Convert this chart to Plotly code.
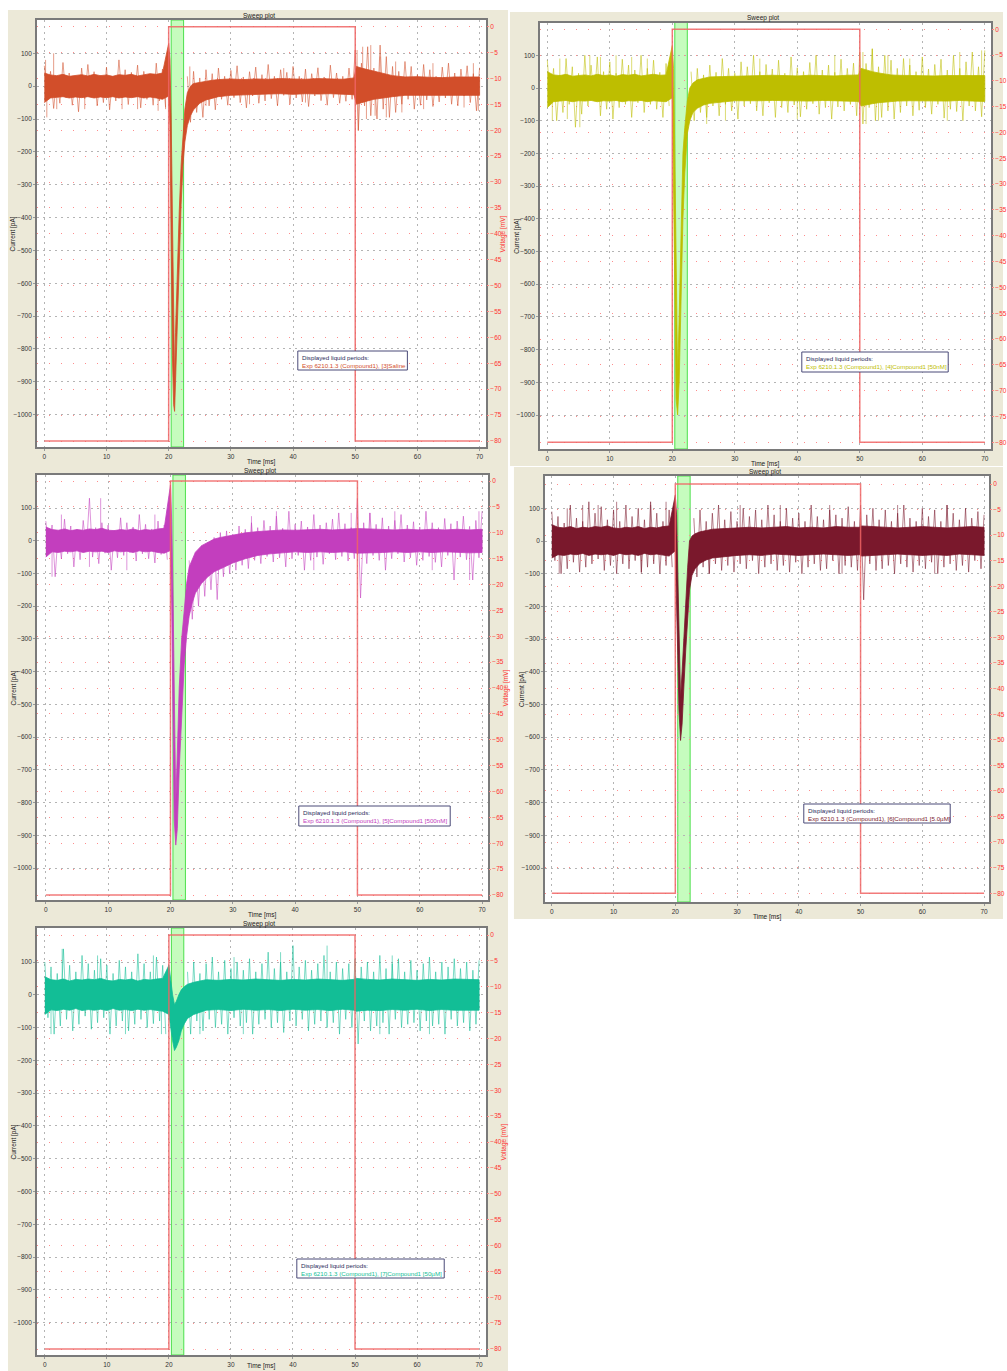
import plotly.graph_objects as go

W, H = 1007, 1371

# ---------------- data ----------------
time_ticks = [0, 10, 20, 30, 40, 50, 60, 70]
current_ticks = [100, 0, -100, -200, -300, -400, -500, -600, -700, -800, -900, -1000]
voltage_ticks = [0, -5, -10, -15, -20, -25, -30, -35, -40, -45, -50, -55, -60, -65, -70, -75, -80]

volt_t = [0, 20, 20, 50, 50, 70]
volt_v = [-80, -80, 0, 0, -80, -80]
liquid_period = [20.4, 22.4]

labels = [
    "Exp 6210.1.3 (Compound1), [3]Saline",
    "Exp 6210.1.3 (Compound1), [4]Compound1 [50nM]",
    "Exp 6210.1.3 (Compound1), [5]Compound1 [500nM]",
    "Exp 6210.1.3 (Compound1), [6]Compound1 [5.0µM]",
    "Exp 6210.1.3 (Compound1), [7]Compound1 [50µM]",
]
colors = ["rgb(210,78,42)", "rgb(190,190,0)", "rgb(195,62,190)", "rgb(122,24,44)", "rgb(18,190,150)"]
light_colors = ["rgba(210,78,42,0.55)", "rgba(190,190,0,0.55)", "rgba(195,62,190,0.55)",
                "rgba(122,24,44,0.55)", "rgba(18,190,150,0.55)"]

# dense noise peaks, sampled every 0.5 ms, in three segments starting at 0, 23 and 50 ms
seg_starts = [0, 23, 50]

# ---- Panel 1 (saline) ----
p1_t = [0, 1, 2, 3, 4, 5, 6, 7, 8, 9, 10, 11, 12, 13, 14, 15, 16, 17, 18, 19,
        20.0, 20.2, 20.4, 20.6, 20.8, 20.95, 21.1, 21.4, 21.7, 22.0, 22.3, 22.6, 23.0, 23.5, 24, 25, 26,
        27, 28, 30, 32, 34, 36, 38, 40, 42, 44, 46, 48, 49.8, 50.2, 51, 52, 53, 54, 55, 56, 58, 60, 62, 64, 66, 68, 70]
p1_hi = [40, 34, 32, 36, 30, 33, 35, 31, 36, 32, 34, 30, 35, 33, 36, 31, 35, 38, 36, 40,
         130, 80, -100, -450, -800, -900, -750, -550, -380, -240, -140, -70, -20, 0, 8, 12, 16,
         18, 20, 22, 20, 22, 21, 23, 22, 21, 23, 22, 21, 25, 60, 55, 50, 45, 40, 36, 32, 28, 29, 27, 26, 28, 27, 28]
p1_lo = [-50, -36, -34, -32, -36, -33, -35, -32, -36, -33, -35, -32, -36, -33, -35, -32, -36, -33, -36, -40,
         -30, -120, -400, -820, -970, -990, -900, -700, -520, -360, -240, -170, -120, -90, -72, -52, -42,
         -36, -32, -28, -26, -25, -24, -23, -25, -23, -24, -23, -24, -26, -55, -50, -45, -40, -36, -34, -32, -28, -28, -26, -27, -26, -28, -28]
p1_noise_pre = [62, -30, 45, -68, 25, -52, 72, -35, 40, -58, 30, -78, 55, -38, 66, -25, 44, -60, 33, -50,
                58, -72, 30, -45, 80, -36, 50, -56, 42, -30, 64, -66, 45, -40, 35, -58, 70, -45, 52, -64]
p1_noise_mid = [30, -110, 45, -80, 25, -95, 50, -60, 38, -72, 55, -40, 30, -58, 48, -35, 62, -50, 28, -66,
                44, -30, 58, -52, 35, -45, 66, -38, 30, -60, 50, -28, 42, -55, 60, -36, 30, -48, 52, -62,
                38, -30, 56, -44, 28, -58, 64, -35, 40, -52, 30, -46, 55, -40]
p1_noise_post = [110, -135, 70, -60, 120, -90, 55, -100, 125, -70, 90, -95, 60, -80, 45, -55, 75, -40, 60, -70,
                 35, -58, 66, -42, 50, -62, 30, -48, 58, -36, 70, -55, 40, -60, 52, -30, 62, -50, 38, -75, 56]
p1_spk_t = [0.2, 0.4, 1.5, 2, 6.5, 12.5, 15, 18.3, 19.5, 23.4, 26, 33, 38.5, 42,
            50.3, 50.5, 51.2, 51.8, 52.5, 53.2, 54, 55, 56.5, 57.5, 61, 62.5, 67.5, 69, 69.8]
p1_spk_v = [80, -95, 100, -70, -70, -70, -70, -75, -70, 60, -60, -55, 55, -50,
            110, -135, 120, -100, 125, -90, 90, -95, 75, -80, -70, 70, -65, 70, -75]

# ---- Panel 2 (50 nM) ----
p2_t = [0, 1, 2, 3, 4, 5, 6, 7, 8, 9, 10, 11, 12, 13, 14, 15, 16, 17, 18, 19,
        20.0, 20.2, 20.4, 20.6, 20.85, 21.1, 21.4, 21.7, 22.0, 22.4, 22.8, 23.3, 24, 25, 26, 28,
        30, 32, 34, 36, 38, 40, 42, 44, 46, 48, 49.8, 50.2, 51, 52, 53, 54, 55, 56, 58, 60, 62, 64, 66, 68, 70]
p2_hi = [50, 40, 38, 42, 36, 39, 40, 37, 42, 38, 40, 36, 41, 39, 42, 37, 40, 42, 39, 40,
         130, 60, -200, -600, -880, -700, -400, -200, -120, -40, 0, 15, 25, 30, 34, 35,
         36, 38, 37, 39, 38, 37, 39, 38, 37, 39, 40, 60, 55, 50, 46, 42, 40, 39, 38, 39, 37, 38, 39, 38, 38]
p2_lo = [-60, -42, -40, -38, -42, -39, -40, -38, -42, -39, -40, -38, -42, -39, -40, -38, -42, -39, -40, -42,
         -30, -200, -600, -950, -1000, -900, -650, -400, -260, -140, -100, -75, -62, -52, -47, -43,
         -39, -40, -39, -38, -40, -39, -40, -38, -39, -40, -41, -55, -52, -48, -45, -43, -41, -40, -39, -40, -39, -40, -38, -40, -41]
p2_noise_pre = [85, -45, 60, -100, 40, -75, 90, -50, 65, -120, 45, -80, 100, -55, 70, -40, 95, -85, 50, -65,
                80, -95, 45, -60, 88, -50, 70, -90, 55, -45, 100, -75, 60, -50, 85, -65, 48, -90, 75, -55]
p2_noise_mid = [50, -100, 60, -75, 40, -90, 70, -55, 48, -85, 90, -50, 60, -70, 45, -95, 80, -55, 65, -48,
                100, -70, 50, -85, 72, -45, 58, -90, 85, -60, 45, -75, 95, -52, 62, -88, 50, -65, 78, -48,
                100, -80, 55, -60, 70, -95, 48, -58, 88, -70, 60, -50, 76, -85]
p2_noise_post = [110, -110, 75, -60, 120, -100, 65, -90, 100, -70, 85, -95, 60, -75, 90, -55, 70, -85, 50, -68,
                 95, -60, 58, -80, 72, -50, 88, -92, 55, -65, 100, -72, 60, -100, 80, -55, 110, -70, 65, -88, 115]
p2_spk_t = [0.8, 2, 3.2, 5.2, 6.8, 8.5, 11, 13.5, 16, 25.5, 28.5, 34, 40, 46,
            50.5, 51, 52, 53, 54.5, 58, 64, 66, 69.5]
p2_spk_v = [-100, 90, -95, -120, 100, 95, 100, 95, 90, -110, -100, 90, -95, 100,
            110, -110, 120, -100, 100, 90, -100, 110, 115]

# ---- Panel 3 (500 nM) ----
p3_t = [0, 1, 2, 3, 4, 5, 6, 7, 8, 9, 10, 11, 12, 13, 14, 15, 16, 17, 18, 19,
        20.0, 20.2, 20.4, 20.6, 20.85, 21.1, 21.4, 21.8, 22.2, 22.6, 23.0, 23.5, 24, 25, 26, 27, 28,
        30, 32, 34, 36, 38, 40, 42, 44, 46, 48, 50, 52, 54, 56, 58, 60, 62, 64, 66, 68, 70]
p3_hi = [42, 34, 32, 36, 31, 34, 32, 36, 34, 38, 32, 31, 34, 32, 36, 31, 34, 32, 36, 38,
         170, 60, -150, -500, -800, -650, -450, -300, -200, -130, -80, -55, -35, -15, -5, 5, 10,
         18, 24, 28, 31, 33, 32, 33, 35, 33, 35, 37, 36, 35, 33, 35, 33, 35, 33, 35, 33, 35]
p3_lo = [-50, -34, -36, -32, -34, -31, -36, -32, -34, -32, -36, -31, -34, -32, -36, -31, -34, -32, -36, -38,
         -30, -200, -500, -850, -930, -880, -700, -520, -380, -290, -230, -190, -160, -130, -110, -95, -85,
         -68, -55, -45, -40, -36, -34, -36, -34, -36, -34, -38, -37, -36, -34, -36, -34, -36, -34, -36, -37, -36]
p3_noise_pre = [60, -35, 48, -110, 30, -55, 66, -40, 45, -80, 35, -58, 62, -30, 130, -50, 40, -70, 55, -38,
                48, -90, 32, -52, 70, -45, 55, -36, 42, -62, 80, -40, 50, -55, 36, -68, 60, -42, 48, -58]
p3_noise_mid = [-60, -240, -45, -200, -15, -170, -5, -150, 10, -180, 25, -110, 30, -100, 20, -90, 45, -75, 35, -85,
                55, -60, 40, -70, 62, -48, 45, -65, 75, -52, 38, -80, 90, -55, 50, -45, 60, -90, 42, -60,
                80, -50, 48, -72, 55, -40, 66, -58, 85, -48, 52, -62, 40, -55]
p3_noise_post = [130, -175, 55, -70, 85, -45, 50, -60, 70, -90, 45, -55, 62, -40, 80, -65, 48, -52, 58, -75,
                 42, -60, 90, -48, 55, -66, 40, -80, 68, -45, 52, -120, 60, -50, 75, -58, 44, -120, 62, -52, 90]
p3_spk_t = [1, 2.5, 7, 8.8, 13, 17.5, 33, 37, 43, 49, 52, 56, 62, 68, 69.5]
p3_spk_v = [-110, 80, -80, 130, -90, 80, 75, 90, -90, 85, 85, 90, -90, -120, 90]

# ---- Panel 4 (5.0 uM) ----
p4_t = [0, 1, 2, 3, 4, 5, 6, 7, 8, 9, 10, 11, 12, 13, 14, 15, 16, 17, 18, 19,
        20.0, 20.2, 20.4, 20.6, 20.85, 21.1, 21.4, 21.7, 22.0, 22.3, 22.7, 23.2, 24, 25, 26, 28,
        30, 32, 34, 36, 38, 40, 42, 44, 46, 48, 49.8, 50.2, 52, 54, 56, 58, 60, 62, 64, 66, 68, 70]
p4_hi = [50, 42, 40, 44, 38, 42, 40, 44, 42, 46, 40, 38, 42, 40, 44, 38, 42, 40, 44, 46,
         140, 80, -100, -300, -480, -400, -280, -180, -80, 0, 15, 22, 28, 32, 36, 38,
         40, 42, 40, 42, 44, 40, 42, 40, 44, 42, 42, 46, 44, 42, 40, 42, 44, 42, 40, 42, 44, 42]
p4_lo = [-52, -42, -44, -40, -42, -38, -44, -40, -42, -40, -44, -38, -42, -40, -44, -38, -42, -40, -44, -46,
         -30, -150, -350, -520, -610, -560, -440, -330, -230, -150, -105, -85, -68, -58, -52, -47,
         -44, -42, -44, -40, -42, -44, -42, -40, -42, -44, -42, -46, -44, -42, -40, -42, -44, -42, -44, -40, -42, -44]
p4_noise_pre = [90, -60, 75, -100, 55, -85, 110, -65, 70, -95, 60, -80, 120, -70, 85, -55, 105, -90, 65, -75,
                95, -100, 60, -70, 110, -85, 75, -60, 100, -95, 65, -80, 120, -70, 85, -100, 60, -75, 95, -80]
p4_noise_mid = [70, -110, 95, -80, 60, -100, 85, -70, 110, -90, 65, -75, 90, -95, 60, -70, 100, -85, 75, -60,
                95, -100, 65, -80, 110, -70, 80, -90, 60, -75, 100, -95, 70, -65, 85, -100, 60, -80, 110, -70,
                75, -90, 65, -85, 95, -60, 80, -100, 70, -75, 105, -80, 60, -90]
p4_noise_post = [110, -180, 80, -70, 100, -90, 65, -85, 95, -75, 60, -100, 85, -70, 110, -80, 70, -95, 60, -75,
                 100, -85, 75, -65, 95, -100, 60, -80, 110, -70, 85, -90, 65, -75, 100, -95, 70, -60, 90, -85, 80]
p4_spk_t = [1.2, 2.5, 5, 7.5, 10.5, 14.5, 16, 18.5, 25.5, 30.5, 37, 45, 47, 56, 62, 64]
p4_spk_v = [-100, 100, 110, 110, 120, -100, 110, 120, -100, 110, 110, 110, -100, 110, -100, 110]

# ---- Panel 5 (50 uM) ----
p5_t = [0, 1, 2, 3, 4, 5, 6, 7, 8, 9, 10, 11, 12, 13, 14, 15, 16, 17, 18, 19,
        20.0, 20.3, 20.6, 20.9, 21.2, 21.6, 22.0, 22.5, 23, 24, 25,
        26, 28, 30, 32, 34, 36, 38, 40, 42, 44, 46, 48, 49.8, 50.2, 52, 54, 56, 58, 60, 62, 64, 66, 68, 70]
p5_hi = [55, 46, 44, 48, 42, 47, 45, 48, 46, 50, 44, 42, 47, 45, 48, 42, 47, 45, 48, 50,
         90, 40, 0, -30, -20, 0, 15, 25, 32, 38, 42,
         46, 44, 47, 45, 48, 46, 44, 47, 45, 48, 46, 44, 47, 50, 47, 45, 48, 46, 44, 47, 45, 48, 46, 46]
p5_lo = [-60, -46, -48, -44, -47, -42, -48, -45, -47, -44, -48, -42, -47, -45, -48, -44, -47, -45, -48, -50,
         -60, -100, -140, -170, -160, -140, -110, -88, -72, -60, -54,
         -47, -45, -48, -44, -47, -45, -48, -44, -47, -45, -48, -44, -47, -50, -47, -48, -45, -47, -44, -48, -45, -47, -48, -47]
p5_noise_pre = [100, -70, 85, -120, 65, -95, 140, -75, 90, -110, 70, -90, 120, -65, 95, -105, 75, -85, 110, -70,
                90, -120, 65, -95, 105, -80, 85, -110, 70, -90, 125, -75, 95, -100, 70, -88, 115, -80, 90, -120]
p5_noise_mid = [70, -120, 100, -80, 65, -110, 95, -75, 115, -100, 70, -90, 105, -120, 80, -70, 100, -95, 75, -85,
                110, -120, 70, -90, 95, -75, 130, -100, 80, -85, 100, -115, 70, -80, 150, -95, 85, -75, 105, -110,
                75, -90, 95, -80, 120, -100, 70, -85, 100, -120, 80, -75, 95, -100]
p5_noise_post = [110, -150, 85, -80, 100, -110, 70, -95, 120, -85, 80, -120, 95, -75, 110, -100, 70, -90, 105, -85,
                 75, -110, 95, -80, 115, -95, 70, -90, 100, -120, 85, -75, 110, -95, 80, -85, 100, -110, 75, -90, 105]
p5_spk_t = [1, 2.8, 8.5, 13, 17.5, 18.8, 25, 30.5, 32, 38, 45.5, 54, 56, 62]
p5_spk_v = [-120, 140, 120, -120, 120, -120, -120, 115, -120, 130, 150, -120, 120, -120]

panels_data = [
    (p1_t, p1_hi, p1_lo, [p1_noise_pre, p1_noise_mid, p1_noise_post], p1_spk_t, p1_spk_v),
    (p2_t, p2_hi, p2_lo, [p2_noise_pre, p2_noise_mid, p2_noise_post], p2_spk_t, p2_spk_v),
    (p3_t, p3_hi, p3_lo, [p3_noise_pre, p3_noise_mid, p3_noise_post], p3_spk_t, p3_spk_v),
    (p4_t, p4_hi, p4_lo, [p4_noise_pre, p4_noise_mid, p4_noise_post], p4_spk_t, p4_spk_v),
    (p5_t, p5_hi, p5_lo, [p5_noise_pre, p5_noise_mid, p5_noise_post], p5_spk_t, p5_spk_v),
]

# ---------------- geometry (pixels) ----------------
geom = [
    dict(L=37, R=488, T=20, B=447, x0=44.5, x70=481.5, y100=53.3, y1000=414.7, v0=26.7, v80=441,
         bg=(8, 10, 510, 465), box=(299, 351, 409, 370), vlabel=True),
    dict(L=542, R=995, T=22.5, B=449, x0=549.5, x70=988.7, y100=55.3, y1000=415, v0=29.3, v80=442.3,
         bg=(512, 12, 1007, 466), box=(805, 352, 952, 372), vlabel=False),
    dict(L=37, R=490, T=475, B=900, x0=46, x70=484, y100=508, y1000=868, v0=481, v80=895,
         bg=(8, 465, 510, 916), box=(300, 806, 452, 826), vlabel=True),
    dict(L=547, R=993, T=476, B=902, x0=554, x70=988, y100=508.3, y1000=868, v0=484, v80=893.3,
         bg=(516, 467, 1007, 919), box=(807, 804, 954, 823), vlabel=False),
    dict(L=37, R=488, T=928, B=1355, x0=45, x70=481, y100=962, y1000=1322.7, v0=935, v80=1349,
         bg=(8, 916, 510, 1371), box=(298, 1259, 446, 1278), vlabel=True),
]

FONT = "Liberation Sans, Arial, sans-serif"
fig = go.Figure()
shapes = []
annotations = []
layout = dict(width=W, height=H, margin=dict(l=0, r=0, t=0, b=0), paper_bgcolor="white",
              plot_bgcolor="rgba(0,0,0,0)", showlegend=False, font=dict(family=FONT, size=7, color="#333"))


def px(x):
    return x / W


def py(y):
    return 1 - y / H


for k, g in enumerate(geom):
    xkey = "xaxis" if k == 0 else f"xaxis{k + 1}"
    ykey = "yaxis" if k == 0 else f"yaxis{2 * k + 1}"
    y2key = f"yaxis{2 * k + 2}"
    xref = "x" if k == 0 else f"x{k + 1}"
    yref = "y" if k == 0 else f"y{2 * k + 1}"
    y2ref = f"y{2 * k + 2}"

    sx = (g["x70"] - g["x0"]) / 70.0
    xr = [0 - (g["x0"] - g["L"]) / sx, 70 + (g["R"] - g["x70"]) / sx]
    sy = (g["y1000"] - g["y100"]) / 1100.0
    yr = [-1000 - (g["B"] - g["y1000"]) / sy, 100 + (g["y100"] - g["T"]) / sy]
    sv = (g["v80"] - g["v0"]) / 80.0
    vr = [-80 - (g["B"] - g["v80"]) / sv, 0 + (g["v0"] - g["T"]) / sv]

    xdom = [px(g["L"]), px(g["R"])]
    ydom = [py(g["B"]), py(g["T"])]

    common = dict(showgrid=True, gridcolor="#b4b4b4", griddash="2px,4px", gridwidth=1, zeroline=False,
                  showline=True, mirror=True, linecolor="#7a7a7a", linewidth=1.5,
                  ticks="outside", ticklen=2, tickcolor="#999", tickfont=dict(size=6.5, color="#333"))
    layout[xkey] = dict(domain=xdom, range=xr, anchor=yref, tickvals=time_ticks, **common)
    layout[ykey] = dict(domain=ydom, range=yr, anchor=xref, tickvals=current_ticks, **common)
    layout[y2key] = dict(overlaying=yref, anchor=xref, side="right", range=vr, tickvals=voltage_ticks,
                         showgrid=True, gridcolor="#ff8c8c", griddash="1px,11px", gridwidth=1,
                         zeroline=False, showline=False, ticks="outside", ticklen=2, tickcolor="#f88",
                         tickfont=dict(size=6.5, color="#ff3030"))

    bx0, by0, bx1, by1 = g["bg"]
    shapes.append(dict(type="rect", xref="paper", yref="paper", x0=px(bx0), x1=px(bx1), y0=py(by1), y1=py(by0),
                       fillcolor="#ece9d8", line=dict(width=0), layer="below"))
    shapes.append(dict(type="rect", xref="paper", yref="paper", x0=px(g["L"]), x1=px(g["R"]), y0=py(g["B"]),
                       y1=py(g["T"]), fillcolor="white", line=dict(width=0), layer="below"))
    shapes.append(dict(type="rect", xref=xref, yref=f"{yref} domain", x0=liquid_period[0], x1=liquid_period[1],
                       y0=0, y1=1, fillcolor="#c6fcbe", line=dict(color="#4ce04c", width=1), layer="below"))
    lx0, ly0, lx1, ly1 = g["box"]
    shapes.append(dict(type="rect", xref="paper", yref="paper", x0=px(lx0), x1=px(lx1), y0=py(ly1), y1=py(ly0),
                       fillcolor="white", line=dict(color="#4a4a78", width=1), layer="above"))
    annotations.append(dict(xref="paper", yref="paper", x=px(lx0 + 2), y=py(ly0 + 1), xanchor="left",
                            yanchor="top", align="left", showarrow=False,
                            text=f"<span style='color:#2a2a5a'>Displayed liquid periods:</span><br>"
                                 f"<span style='color:{colors[k]}'>{labels[k]}</span>",
                            font=dict(size=6.2, family=FONT)))
    cx = (g["L"] + g["R"]) / 2
    annotations.append(dict(xref="paper", yref="paper", x=px(cx - 2), y=py(g["T"] - 4), text="Sweep plot",
                            showarrow=False, xanchor="center", yanchor="middle",
                            font=dict(size=6.5, color="#222")))
    tb = min(g["B"] + 15, H - 5)
    annotations.append(dict(xref="paper", yref="paper", x=px(cx), y=py(tb), text="Time [ms]",
                            showarrow=False, xanchor="center", yanchor="middle",
                            font=dict(size=6.5, color="#222")))
    annotations.append(dict(xref="paper", yref="paper", x=px(g["L"] - 23), y=py((g["T"] + g["B"]) / 2),
                            text="Current [pA]", textangle=-90, showarrow=False, xanchor="center",
                            yanchor="middle", font=dict(size=6.5, color="#222")))
    if g["vlabel"]:
        annotations.append(dict(xref="paper", yref="paper", x=px(g["R"] + 18), y=py((g["T"] + g["B"]) / 2),
                                text="Voltage [mV]", textangle=-90, showarrow=False, xanchor="center",
                                yanchor="middle", font=dict(size=6.5, color="#ff3030")))

    t, hi, lo, noise_segs, st, sv_ = panels_data[k]
    fig.add_trace(go.Scatter(x=volt_t, y=volt_v, xaxis=xref, yaxis=y2ref, mode="lines",
                             line=dict(color="rgba(240,100,100,0.85)", width=1.5), hoverinfo="skip"))
    # dense noise zigzag
    nx, ny = [], []
    for si, seg in enumerate(noise_segs):
        for i, v in enumerate(seg):
            nx.append(seg_starts[si] + 0.5 * i)
            ny.append(v)
        if si == 0:
            nx.append(None)
            ny.append(None)
    fig.add_trace(go.Scatter(x=nx, y=ny, xaxis=xref, yaxis=yref, mode="lines",
                             line=dict(color=light_colors[k], width=1), hoverinfo="skip"))
    # isolated large spikes
    sx_list, sy_list = [], []
    for tt, vv in zip(st, sv_):
        sx_list += [tt, tt, None]
        sy_list += [0, vv, None]
    fig.add_trace(go.Scatter(x=sx_list, y=sy_list, xaxis=xref, yaxis=yref, mode="lines",
                             line=dict(color=light_colors[k], width=1), hoverinfo="skip"))
    # dense core of the current traces
    fig.add_trace(go.Scatter(x=list(t) + list(t)[::-1], y=list(hi) + list(lo)[::-1], xaxis=xref, yaxis=yref,
                             mode="lines", fill="toself", fillcolor=colors[k],
                             line=dict(color=colors[k], width=0.8), hoverinfo="skip"))

layout["shapes"] = shapes
layout["annotations"] = annotations
fig.update_layout(**layout)
fig.write_html("out.html")
